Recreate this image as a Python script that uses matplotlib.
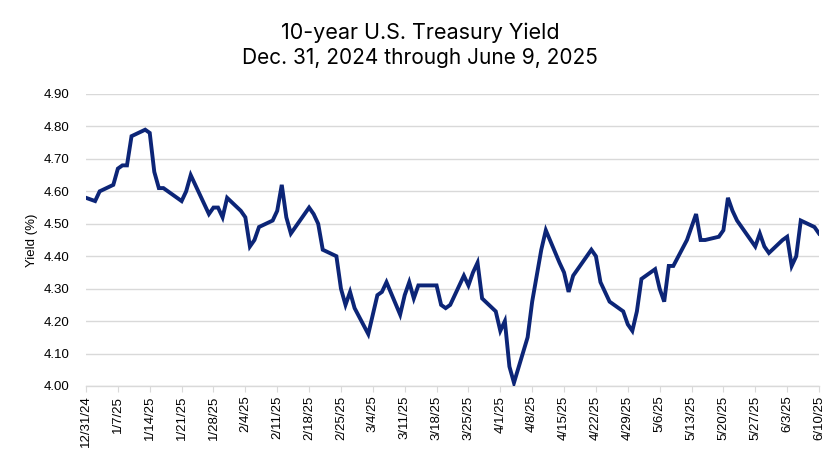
import matplotlib
matplotlib.use("Agg")
import matplotlib.pyplot as plt
import pandas as pd

dates = [
    "2024-12-31", "2025-01-02", "2025-01-03", "2025-01-06", "2025-01-07", "2025-01-08", "2025-01-09",
    "2025-01-10", "2025-01-13", "2025-01-14", "2025-01-15", "2025-01-16", "2025-01-17",
    "2025-01-21", "2025-01-22", "2025-01-23", "2025-01-24", "2025-01-27", "2025-01-28",
    "2025-01-29", "2025-01-30", "2025-01-31", "2025-02-03", "2025-02-04", "2025-02-05",
    "2025-02-06", "2025-02-07", "2025-02-10", "2025-02-11", "2025-02-12", "2025-02-13",
    "2025-02-14", "2025-02-18", "2025-02-19", "2025-02-20", "2025-02-21", "2025-02-24",
    "2025-02-25", "2025-02-26", "2025-02-27", "2025-02-28", "2025-03-03", "2025-03-04",
    "2025-03-05", "2025-03-06", "2025-03-07", "2025-03-10", "2025-03-11", "2025-03-12",
    "2025-03-13", "2025-03-14", "2025-03-17", "2025-03-18", "2025-03-19", "2025-03-20",
    "2025-03-21", "2025-03-24", "2025-03-25", "2025-03-26", "2025-03-27", "2025-03-28",
    "2025-03-31", "2025-04-01", "2025-04-02", "2025-04-03", "2025-04-04", "2025-04-07",
    "2025-04-08", "2025-04-09", "2025-04-10", "2025-04-11", "2025-04-14", "2025-04-15",
    "2025-04-16", "2025-04-17", "2025-04-21", "2025-04-22", "2025-04-23", "2025-04-24",
    "2025-04-25", "2025-04-28", "2025-04-29", "2025-04-30", "2025-05-01", "2025-05-02",
    "2025-05-05", "2025-05-06", "2025-05-07", "2025-05-08", "2025-05-09", "2025-05-12",
    "2025-05-13", "2025-05-14", "2025-05-15", "2025-05-16", "2025-05-19", "2025-05-20",
    "2025-05-21", "2025-05-22", "2025-05-23", "2025-05-27", "2025-05-28", "2025-05-29",
    "2025-05-30", "2025-06-02", "2025-06-03", "2025-06-04", "2025-06-05", "2025-06-06",
    "2025-06-09", "2025-06-10",
]
yields = [
    4.58, 4.57, 4.60, 4.62, 4.67, 4.68, 4.68,
    4.77, 4.79, 4.78, 4.66, 4.61, 4.61,
    4.57, 4.60, 4.65, 4.62, 4.53, 4.55,
    4.55, 4.52, 4.58, 4.54, 4.52, 4.43,
    4.45, 4.49, 4.51, 4.54, 4.62, 4.52,
    4.47, 4.55, 4.53, 4.50, 4.42, 4.40,
    4.30, 4.25, 4.29, 4.24, 4.16, 4.22,
    4.28, 4.29, 4.32, 4.22, 4.28, 4.32,
    4.27, 4.31, 4.31, 4.31, 4.25, 4.24,
    4.25, 4.34, 4.31, 4.35, 4.38, 4.27,
    4.23, 4.17, 4.20, 4.06, 4.01, 4.15,
    4.26, 4.34, 4.42, 4.48, 4.38, 4.35,
    4.29, 4.34, 4.42, 4.40, 4.32, 4.29,
    4.26, 4.23, 4.19, 4.17, 4.23, 4.33,
    4.36, 4.30, 4.26, 4.37, 4.37, 4.45,
    4.49, 4.53, 4.45, 4.45, 4.46, 4.48,
    4.58, 4.54, 4.51, 4.43, 4.47, 4.43,
    4.41, 4.45, 4.46, 4.37, 4.40, 4.51,
    4.49, 4.47,
]
y_ticks = [4.00, 4.10, 4.20, 4.30, 4.40, 4.50, 4.60, 4.70, 4.80, 4.90]
title_line1 = "10-year U.S. Treasury Yield"
title_line2 = "Dec. 31, 2024 through June 9, 2025"
y_label = "Yield (%)"

x = pd.to_datetime(dates)
start = pd.Timestamp("2024-12-31")
end = pd.Timestamp("2025-06-10")
tick_dates = pd.date_range(start, end, freq="7D")
tick_labels = [f"{d.month}/{d.day}/{d.strftime('%y')}" for d in tick_dates]

fig = plt.figure(figsize=(8.4, 4.72), dpi=100)
ax = fig.add_axes([86/840, 1-386/472, (819-86)/840, (386-94)/472])

ax.plot(x, yields, color="#0c2577", linewidth=2.8, solid_joinstyle="miter", zorder=3)

ax.set_xlim(start, end)
ax.set_ylim(4.00, 4.90)
ax.set_yticks(y_ticks)
ax.set_yticklabels([f"{v:.2f}" for v in y_ticks], fontsize=9.5, family="Liberation Sans")
ax.set_xticks(tick_dates)
ax.set_xticklabels(tick_labels, rotation=90, fontsize=9.5, family="Liberation Sans")
ax.grid(axis="y", color="#d9d9d9", linewidth=1.0)
ax.set_axisbelow(True)
for s in ["top", "right", "left"]:
    ax.spines[s].set_visible(False)
ax.spines["bottom"].set_color("#d9d9d9")
ax.spines["bottom"].set_linewidth(1.0)
ax.tick_params(axis="y", length=0, pad=12, colors="#000000")
ax.tick_params(axis="x", length=4, color="#d9d9d9", pad=3)
ax.set_ylabel(y_label, fontsize=9.5, family="Liberation Sans", labelpad=4)

fig.text(0.5, 1-33/472, title_line1, ha="center", va="center",
         fontsize=15.5, family="Inter")
fig.text(0.5, 1-58/472, title_line2, ha="center", va="center",
         fontsize=15, family="Inter")

fig.savefig("out.png", dpi=100, facecolor="white")
